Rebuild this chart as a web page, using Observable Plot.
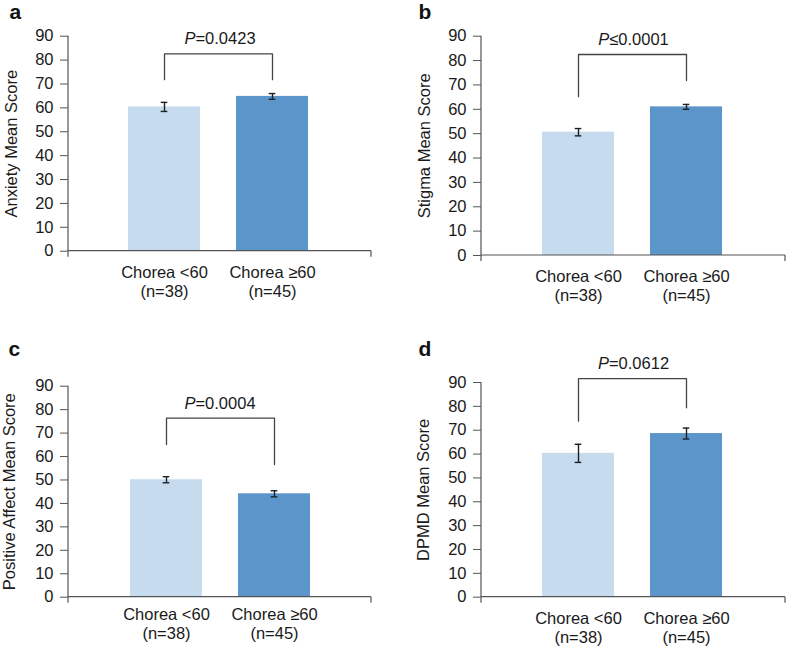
<!DOCTYPE html>
<html>
<head>
<meta charset="utf-8">
<script src="https://cdn.jsdelivr.net/npm/d3@7"></script>
<script src="https://cdn.jsdelivr.net/npm/@observablehq/plot@0.6"></script>
<style>
  html, body { margin: 0; padding: 0; background: #fff; }
  #chart { position: relative; width: 787px; height: 648px; background: #fff; }
  #chart svg { position: absolute; overflow: visible; }
</style>
</head>
<body>
<div id="chart"></div>
<script>
// ---- data ----
const panelLetters = ["a", "b", "c", "d"];
const yTitles = ["Anxiety Mean Score", "Stigma Mean Score", "Positive Affect Mean Score", "DPMD Mean Score"];
const groups = ["Chorea <60\n(n=38)", "Chorea \u226560\n(n=45)"];
const groupColors = ["#C6DBEE", "#5B95C9"];
const meanScores = [[60.4, 64.8], [50.6, 61.0], [50.1, 44.1], [60.3, 68.6]];
const stdErrors = [[1.9, 1.2], [1.5, 1.0], [1.3, 1.3], [3.8, 2.3]];
const pTexts = ["=0.0423", "\u22640.0001", "=0.0004", "=0.0612"];
const bracketTop = [82.6, 82.5, 76.4, 91.6];
const bracketLeftEnd = [71.8, 65.2, 65.1, 73.8];
const bracketRightEnd = [71.8, 71.8, 56.6, 79.4];
const pLabelLevel = [89.0, 88.5, 82.6, 97.8];
const yTicks = [0, 10, 20, 30, 40, 50, 60, 70, 80, 90];

// ---- layout (pixels) ----
const layouts = [
  {left: 0,   top: 0,   width: 390, height: 320, mL: 68, mR: 19, mT: 35.7, mB: 69.3, range: [110.35, 326.55], letterX: 9,  letterY: 18.5, titleX: 11,  labelDy: 13.6},
  {left: 395, top: 0,   width: 392, height: 320, mL: 86, mR: 2,  mT: 35.7, mB: 65,   range: [129.5, 345.5],   letterX: 23, letterY: 18.5, titleX: 29,  labelDy: 13.1},
  {left: 0,   top: 320, width: 390, height: 328, mL: 68, mR: 19, mT: 65.7, mB: 51.3, range: [110.8, 328.4],   letterX: 8,  letterY: 35,   titleX: 9.5, labelDy: 9.9},
  {left: 395, top: 320, width: 392, height: 328, mL: 86, mR: 2,  mT: 62,   mB: 51.3, range: [128.95, 345.95], letterX: 23, letterY: 35,   titleX: 28,  labelDy: 13.2}
];

const FONT = "'Liberation Sans', Arial, Helvetica, sans-serif";
const chart = document.getElementById("chart");

function axisFrame(index, scales, values, dims) {
  const x0 = dims.marginLeft, x1 = dims.width - dims.marginRight;
  const yt = dims.marginTop, yb = dims.height - dims.marginBottom;
  const g = d3.create("svg:g");
  g.append("path")
    .attr("d", `M${x0},${yt}V${yb + 6}M${x0},${yb}H${x1}M${x1},${yb}V${yb + 6}`)
    .attr("fill", "none").attr("stroke", "#555").attr("stroke-width", 1.2);
  return g.node();
}

panelLetters.forEach((letter, i) => {
  const L = layouts[i];
  const rows = groups.map((g, j) => ({group: g, mean: meanScores[i][j], err: stdErrors[i][j]}));
  const bracket = [
    {group: groups[0], y: bracketLeftEnd[i]},
    {group: groups[0], y: bracketTop[i]},
    {group: groups[1], y: bracketTop[i]},
    {group: groups[1], y: bracketRightEnd[i]}
  ];
  const pFull = "P" + pTexts[i];
  const svg = Plot.plot({
    width: L.width,
    height: L.height,
    marginLeft: L.mL, marginRight: L.mR, marginTop: L.mT, marginBottom: L.mB,
    style: {fontFamily: FONT, fontSize: "16px", color: "#1a1a1a", background: "transparent", overflow: "visible"},
    x: {domain: groups, range: L.range, paddingInner: 0.333, paddingOuter: 0.1665, axis: null},
    y: {domain: [0, 90], axis: null},
    color: {domain: groups, range: groupColors},
    marks: [
      Plot.barY(rows, {x: "group", y: "mean", fill: "group"}),
      Plot.ruleX(rows, {x: "group", y1: d => d.mean - d.err, y2: d => d.mean + d.err, stroke: "#1a1f26", strokeWidth: 1.4}),
      Plot.tickY(rows, {x: "group", y: d => d.mean - d.err, stroke: "#1a1f26", strokeWidth: 1.4, insetLeft: 32.7, insetRight: 32.7}),
      Plot.tickY(rows, {x: "group", y: d => d.mean + d.err, stroke: "#1a1f26", strokeWidth: 1.4, insetLeft: 32.7, insetRight: 32.7}),
      axisFrame,
      Plot.axisY(yTicks, {tickSize: 8, tickPadding: 7, fontSize: 16.5, stroke: "#555", fill: "#1a1a1a", label: null, tickFormat: d => String(d)}),
      Plot.text(rows, {x: "group", frameAnchor: "bottom", text: "group", dy: L.labelDy, lineAnchor: "top", lineHeight: 1.14, fontSize: 16.5, fill: "#1a1a1a"}),
      Plot.line(bracket, {x: "group", y: "y", stroke: "#444", strokeWidth: 1.3}),
      Plot.text([pFull], {y: () => pLabelLevel[i], text: d => d, fontSize: 16.5, fill: "#1a1a1a", lineAnchor: "middle"}),
      Plot.text([yTitles[i]], {frameAnchor: "left", text: d => d, rotate: -90, dx: L.titleX - L.mL, lineAnchor: "middle", textAnchor: "middle", fontSize: 16.5, fill: "#1a1a1a"}),
      Plot.text([letter], {frameAnchor: "top-left", text: d => d, dx: L.letterX - L.mL, dy: L.letterY - L.mT, textAnchor: "start", lineAnchor: "bottom", fontSize: 21, fontWeight: "bold", fill: "#111"})
    ]
  });
  svg.style.left = L.left + "px";
  svg.style.top = L.top + "px";
  // italic P in the p-value label
  svg.querySelectorAll("text").forEach(t => {
    if (t.textContent === pFull) {
      t.textContent = "";
      const s = d3.select(t);
      s.append("tspan").attr("font-style", "italic").text("P");
      s.append("tspan").text(pTexts[i]);
    }
  });
  chart.appendChild(svg);
});
</script>
</body>
</html>
